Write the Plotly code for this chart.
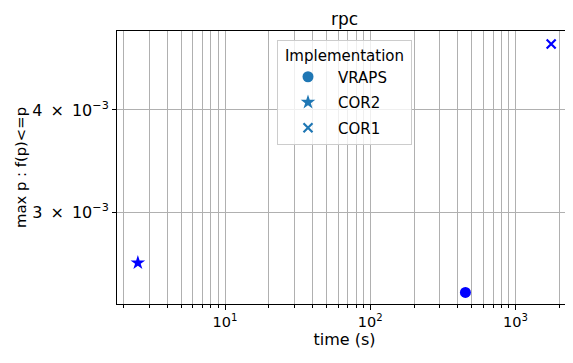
import plotly.graph_objects as go

# Data
implementations = ["VRAPS", "COR2", "COR1"]
times = [452, 2.51, 1760]
max_p = [0.002395, 0.002603, 0.004816]
symbols = ["circle", "star", "x-thin-open"]

x_major = [10, 100, 1000]
x_major_text = ["10<sup>1</sup>", "10<sup>2</sup>", "10<sup>3</sup>"]
x_minor = [m * d for d in (1, 10, 100, 1000) for m in range(2, 10) if m * d < 2600]
y_ticks = [0.003, 0.004]
y_ticktext = ["3\u2002×\u200210<sup>−3</sup>", "4\u2002×\u200210<sup>−3</sup>"]

FONT = "DejaVu Sans"
FS = 13.6
LFS = 15
# page has an 8px body margin, so the figure is laid out 8px smaller
W, H = 565, 355
L, R, T, B = 109, 1, 23, 59
fig = go.Figure()

sizes = {"circle": 11, "star": 11, "x-thin-open": 9}
for i, (name, t, p, s) in enumerate(zip(implementations, times, max_p, symbols)):
    line = dict(width=2.2, color="blue") if "x" in s else dict(width=0)
    fig.add_trace(go.Scatter(
        x=[t], y=[p], mode="markers", showlegend=False,
        marker=dict(symbol=s, size=sizes[s], color="blue", line=line),
    ))
    lline = dict(width=2.2, color="#1f77b4") if "x" in s else dict(width=0)
    fig.add_trace(go.Scatter(
        x=[None], y=[None], mode="markers", name=name, legendgroup=name,
        marker=dict(symbol=s, size=sizes[s], color="#1f77b4", line=lline),
    ))

fig.update_layout(
    width=W, height=H,
    margin=dict(l=L, r=R, t=T, b=B, autoexpand=False),
    paper_bgcolor="white", plot_bgcolor="white",
    font=dict(family=FONT, size=FS, color="black"),
    title=dict(text="rpc", x=(L + (W - R)) / 2 / W, xanchor="center",
               y=1 - 11 / H, yanchor="middle", yref="container",
               font=dict(size=17, family=FONT, color="black")),
    legend=dict(
        title=dict(text="&nbsp;Implementation&nbsp;", side="top center",
                   font=dict(size=LFS, family=FONT)),
        x=0.5, xanchor="center", y=1 - 9 / 273, yanchor="top",
        bgcolor="rgba(255,255,255,0.8)", bordercolor="#cccccc", borderwidth=1,
        tracegroupgap=3, font=dict(size=LFS, family=FONT),
        itemwidth=50,
    ),
)

fig.update_xaxes(
    type="log", range=[0.256, 3.389], automargin=False,
    tickvals=x_major, ticktext=x_major_text, tickfont=dict(size=14.5),
    ticks="outside", ticklen=5, tickwidth=1, tickcolor="black",
    showline=True, linecolor="black", linewidth=1, mirror=True,
    showgrid=True, gridcolor="#b0b0b0", gridwidth=0.8,
    minor=dict(tickvals=x_minor, ticks="outside", ticklen=3, tickcolor="black",
               showgrid=True, gridcolor="#b0b0b0", gridwidth=0.8),
    title=dict(text="time (s)", standoff=4),
    zeroline=False,
)
fig.update_yaxes(
    type="log", range=[-2.6348, -2.3015], automargin=False,
    tickvals=y_ticks, ticktext=y_ticktext, tickfont=dict(size=16),
    ticks="outside", ticklen=4, tickwidth=1, tickcolor="black",
    showline=True, linecolor="black", linewidth=1, mirror=True,
    showgrid=True, gridcolor="#b0b0b0", gridwidth=0.8,
    title=dict(text="max p : f(p)<=p", standoff=2, font=dict(size=14.8)),
    zeroline=False,
)

fig.write_html("out.html")
